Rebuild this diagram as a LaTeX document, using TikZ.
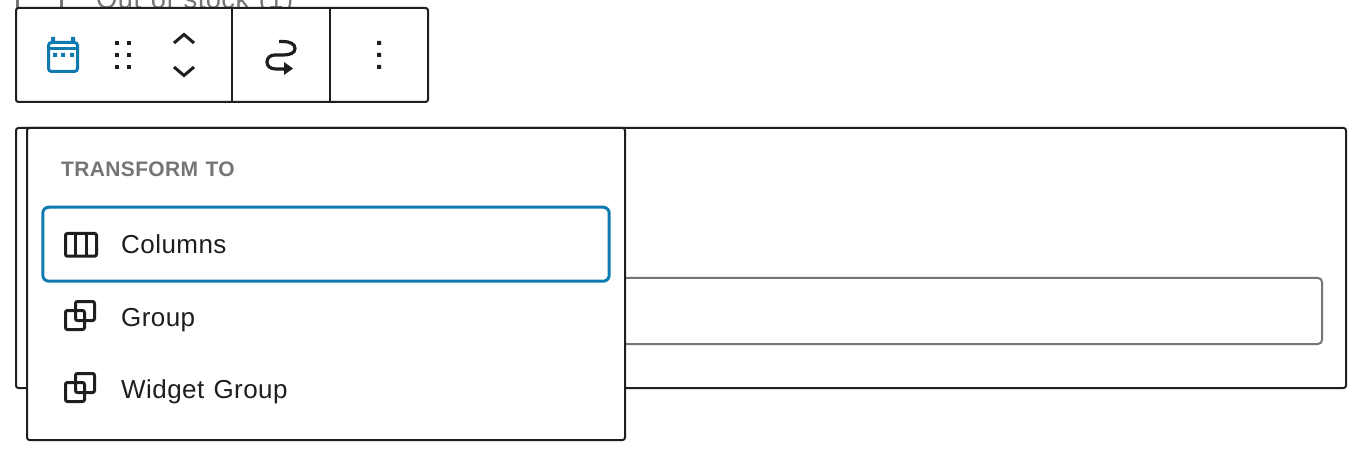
\documentclass[tikz,border=0pt]{standalone}
\usepackage{fontspec}
\setmainfont{Liberation Sans}[LetterSpace=1.7,WordSpace=1.2]
\definecolor{ink}{HTML}{1E1E1E}
\definecolor{wpblue}{HTML}{0F7AAF}
\definecolor{midgray}{HTML}{757575}
\tikzset{
  x=1pt,y=-1pt,
  frame/.style={draw=ink,line width=2pt,fill=white,rounded corners=2.5pt},
  icon/.style={draw=ink,line width=3pt,rounded corners=2pt},
  dotmark/.style={fill=ink,draw=none},
  label/.style={anchor=base west,inner sep=0pt,text=ink,font=\fontsize{26}{30}\selectfont},
}
\newcommand{\groupicon}[2]{%
  \begin{scope}[shift={(#1,#2)}]
    \draw[icon] (0.5,-16.5) rectangle (19.5,2.5);
    \draw[icon] (10.5,-25.5) rectangle (29.5,-6.5);
  \end{scope}}
\begin{document}
\begin{tikzpicture}
\useasboundingbox (0,0) rectangle (1362,454);
\fill[white] (0,0) rectangle (1362,454);
% clipped content behind the toolbar
\begin{scope}
  \clip (0,0) rectangle (1362,8);
  \node[anchor=base west,inner sep=0pt,text=midgray,font=\fontsize{27.3}{32}\selectfont] (stock) at (96,9) {Out of stock (1)};
  \draw[midgray,line width=3pt] (17.5,-4) -- (17.5,12) (61.5,-4) -- (61.5,12);
\end{scope}
% toolbar
\draw[frame] (16,8) rectangle (428,102);
\draw[ink,line width=2pt] (232,8) -- (232,102) (330,8) -- (330,102);
% calendar icon
\draw[wpblue,line width=3pt,rounded corners=3pt] (48.5,42.5) rectangle (77.5,71.5);
\draw[wpblue,line width=3pt] (48.5,48.5) -- (77.5,48.5);
\fill[wpblue] (51,37) rectangle (55,43) (71,37) rectangle (75,43);
\fill[wpblue] (53,53) rectangle (57,57) (61,53) rectangle (65,57) (70,53) rectangle (74,57);
% drag handle
\foreach \px in {115,127}\foreach \py in {41,53,65}
  \fill[dotmark] (\px,\py) rectangle +(4,4);
% movers
\draw[ink,line width=3pt] (174,43) -- (184,34.5) -- (194,43);
\draw[ink,line width=3pt] (174,67) -- (184,75.5) -- (194,67);
% transform arrow
\draw[ink,line width=3.2pt] (279,41.5) -- (283,41.5) .. controls (290,41.5) and (295,44) .. (295,48.5)
  .. controls (295,53) and (290,55) .. (283,55) -- (275,55)
  .. controls (270,55) and (267,58) .. (267,62) .. controls (267,66) and (270,69) .. (276,69) -- (286,69);
\fill[ink] (284,62) -- (293,68.5) -- (284,75) -- cycle;
% kebab
\fill[dotmark] (377,41) rectangle +(4,4) (377,53) rectangle +(4,4) (377,65) rectangle +(4,4);
% block outer frame
\draw[frame] (16,128) rectangle (1346,388);
% input
\draw[draw=midgray,line width=2pt,fill=white,rounded corners=4pt] (560,278) rectangle (1322,344);
% popover
\draw[frame] (27,128) rectangle (625,440);
\node[anchor=base west,inner sep=0pt,text=midgray,font=\fontsize{21}{26}\selectfont\bfseries] (head) at (61,177) {TRANSFORM TO};
\draw[draw=wpblue,line width=3pt,fill=white,rounded corners=6pt] (42.8,207.2) rectangle (609.2,281.2);
% columns icon
\draw[icon] (65.5,233.5) rectangle (96.5,256.2);
\draw[ink,line width=3pt] (75.5,233.5) -- (75.5,256.2) (86.5,233.5) -- (86.5,256.2);
\node[label] (columns) at (121,254) {Columns};
\groupicon{65}{327}
\node[label] (group) at (121,326) {Group};
\groupicon{65}{399}
\node[label] (widget) at (121,398) {Widget Group};
\end{tikzpicture}
\end{document}
